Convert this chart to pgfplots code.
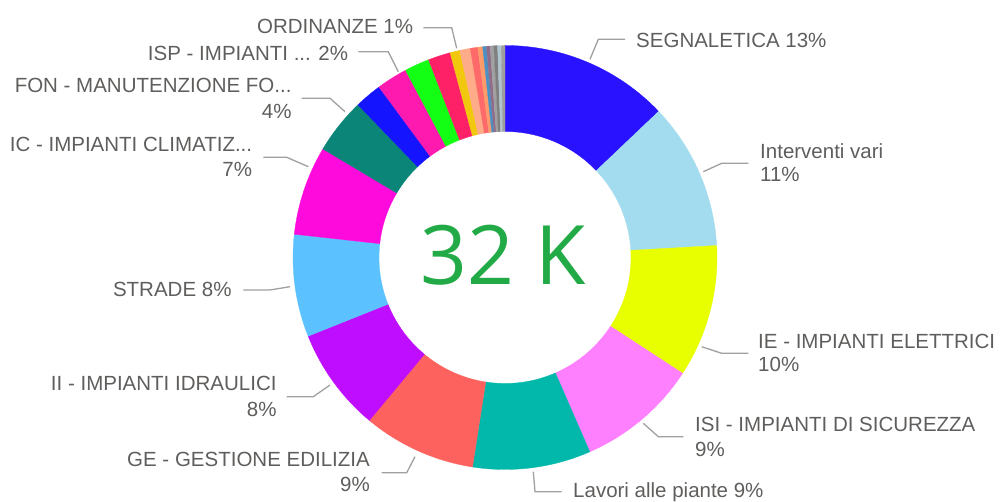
\documentclass[border=0pt]{standalone}
\usepackage{fontspec}
\setmainfont{Liberation Sans}
\newfontfamily\bigfont{Open Sans}
\usepackage{pgfplots}
\usepackage{pgfplotstable}
\pgfplotsset{compat=1.18}
\usetikzlibrary{calc}

\definecolor{lbl}{HTML}{605E5C}
\definecolor{lead}{HTML}{A0A0A0}
\definecolor{kpi}{HTML}{22AA46}
% slice colours
\definecolor{sSeg}{HTML}{2812FF}
\definecolor{sInt}{HTML}{A3DCEF}
\definecolor{sIE}{HTML}{E8FF00}
\definecolor{sISI}{HTML}{FF80FF}
\definecolor{sLav}{HTML}{01B8AA}
\definecolor{sGE}{HTML}{FD625E}
\definecolor{sII}{HTML}{BF0DFF}
\definecolor{sStr}{HTML}{5CC2FF}
\definecolor{sIC}{HTML}{FF0ADC}
\definecolor{sFON}{HTML}{0A8578}
\definecolor{sBlu}{HTML}{1414FF}
\definecolor{sISP}{HTML}{FF1AAF}
\definecolor{sGrn}{HTML}{13FF13}
\definecolor{sCrm}{HTML}{FF2168}
\definecolor{sOrd}{HTML}{F2C80F}
\definecolor{sSal}{HTML}{FDAB89}
\definecolor{sCor}{HTML}{FE6A6A}
\definecolor{sOra}{HTML}{FF9A6A}
\definecolor{sT1}{HTML}{4A90C2}
\definecolor{sT2}{HTML}{8E6C8A}
\definecolor{sT3}{HTML}{A0A0A0}
\definecolor{sT4}{HTML}{7F7F7F}
\definecolor{sT5}{HTML}{B0C4D0}
\definecolor{sT6}{HTML}{9E9E9E}

% share of each category, clockwise from 12 o'clock
\pgfplotstableread{
key   pct   col
SEG   12.90 sSeg
INT   11.20 sInt
IE    10.10 sIE
ISI    9.25 sISI
LAV    9.00 sLav
GE     8.60 sGE
II     7.90 sII
STR    7.80 sStr
IC     6.80 sIC
FON    4.25 sFON
BLU    2.07 sBlu
ISP    2.36 sISP
GRN    1.90 sGrn
CRM    1.70 sCrm
ORD    0.75 sOrd
SAL    0.80 sSal
COR    0.57 sCor
ORA    0.37 sOra
T1     0.28 sT1
T2     0.28 sT2
T3     0.28 sT3
T4     0.28 sT4
T5     0.28 sT5
T6     0.28 sT6
}\donut

\begin{document}
\begin{tikzpicture}
\useasboundingbox (0,0) rectangle (1001pt,502pt);
\begin{axis}[
    at={(0,0)}, anchor=origin,
    x=1pt, y=1pt,
    xmin=0, xmax=1001, ymin=0, ymax=502,
    hide axis, clip=false,
    leader/.style={lead, solid, line width=1.3pt, no marks},
    nodes={font=\fontsize{20.5}{24}\selectfont, text=lbl, inner sep=0pt},
]
\pgfplotsextra{
  \pgfplotstablegetrowsof{\donut}
  \pgfmathtruncatemacro{\nlast}{\pgfplotsretval-1}
  \gdef\cum{0}
  \foreach \i in {0,...,\nlast}{
    \pgfplotstablegetelem{\i}{pct}\of{\donut}\let\slicepct\pgfplotsretval
    \pgfplotstablegetelem{\i}{col}\of{\donut}\let\slicecol\pgfplotsretval
    \pgfmathsetmacro{\aa}{90-3.6*\cum}
    \pgfmathsetmacro{\ab}{90-3.6*(\cum+\slicepct)}
    \filldraw[fill=\slicecol, draw=\slicecol, line width=0.3pt]
      ($(axis cs:505,244.5)+(\aa:212pt)$) arc[start angle=\aa, end angle=\ab, radius=212pt]
      -- ($(axis cs:505,244.5)+(\ab:126pt)$) arc[start angle=\ab, end angle=\aa, radius=126pt]
      -- cycle;
    \pgfmathsetmacro{\newcum}{\cum+\slicepct}
    \xdef\cum{\newcum}
  }
}

% leader lines
\addplot[leader] coordinates {(590,442.7) (598.3,462.7) (625,462.7)};
\addplot[leader] coordinates {(703.3,330.3) (721.7,338.7) (748.3,338.7)};
\addplot[leader] coordinates {(701.7,155.3) (721.7,148.7) (748.3,148.7)};
\addplot[leader] coordinates {(643.3,78.7) (658.3,65.3) (683.3,65.3)};
\addplot[leader] coordinates {(533.3,30.3) (535,10.3) (561.7,10.3)};
\addplot[leader] coordinates {(415,45.3) (406.7,29.3) (381.7,29.3)};
\addplot[leader] coordinates {(330,117) (313.3,105.3) (286.7,105.3)};
\addplot[leader] coordinates {(290,215.3) (270,212) (243.3,212)};
\addplot[leader] coordinates {(308.3,335.3) (286.7,344.7) (263.3,344.7)};
\addplot[leader] coordinates {(345,390.3) (330,403.7) (301.7,403.7)};
\addplot[leader] coordinates {(398.3,430.3) (388.3,450.3) (358.3,450.3)};
\addplot[leader] coordinates {(456.7,453.7) (451.7,474.3) (423.3,474.3)};

% labels, right side
\node[anchor=base west] at (axis cs:636,454) {SEGNALETICA 13\%};
\node[anchor=base west] at (axis cs:760,343.3) {Interventi vari};
\node[anchor=base west] at (axis cs:760,320) {11\%};
\node[anchor=base west] at (axis cs:758,153.3) {IE - IMPIANTI ELETTRICI};
\node[anchor=base west] at (axis cs:758,130) {10\%};
\node[anchor=base west] at (axis cs:695,70) {ISI - IMPIANTI DI SICUREZZA};
\node[anchor=base west] at (axis cs:695,45) {9\%};
\node[anchor=base west] at (axis cs:573,4) {Lavori alle piante 9\%};
% labels, left side
\node[anchor=base east] at (axis cs:370,35) {GE - GESTIONE EDILIZIA};
\node[anchor=base east] at (axis cs:370,10) {9\%};
\node[anchor=base east] at (axis cs:276.7,111.7) {II - IMPIANTI IDRAULICI};
\node[anchor=base east] at (axis cs:276.7,85.7) {8\%};
\node[anchor=base east] at (axis cs:231.7,205.7) {STRADE 8\%};
\node[anchor=base east] at (axis cs:252.3,350) {IC - IMPIANTI CLIMATIZ...};
\node[anchor=base east] at (axis cs:252.3,325) {7\%};
\node[anchor=base east] at (axis cs:291.7,409) {FON - MANUTENZIONE FO...};
\node[anchor=base east] at (axis cs:291.7,383.3) {4\%};
\node[anchor=base east] at (axis cs:348.3,441.7) {ISP - IMPIANTI ... 2\%};
\node[anchor=base east] at (axis cs:413.3,468.3) {ORDINANZE 1\%};

% total in the hole
\node[font=\bigfont\fontsize{82}{90}\selectfont, text=kpi] at (axis cs:503.5,247) {32 K};
\end{axis}
\end{tikzpicture}
\end{document}
